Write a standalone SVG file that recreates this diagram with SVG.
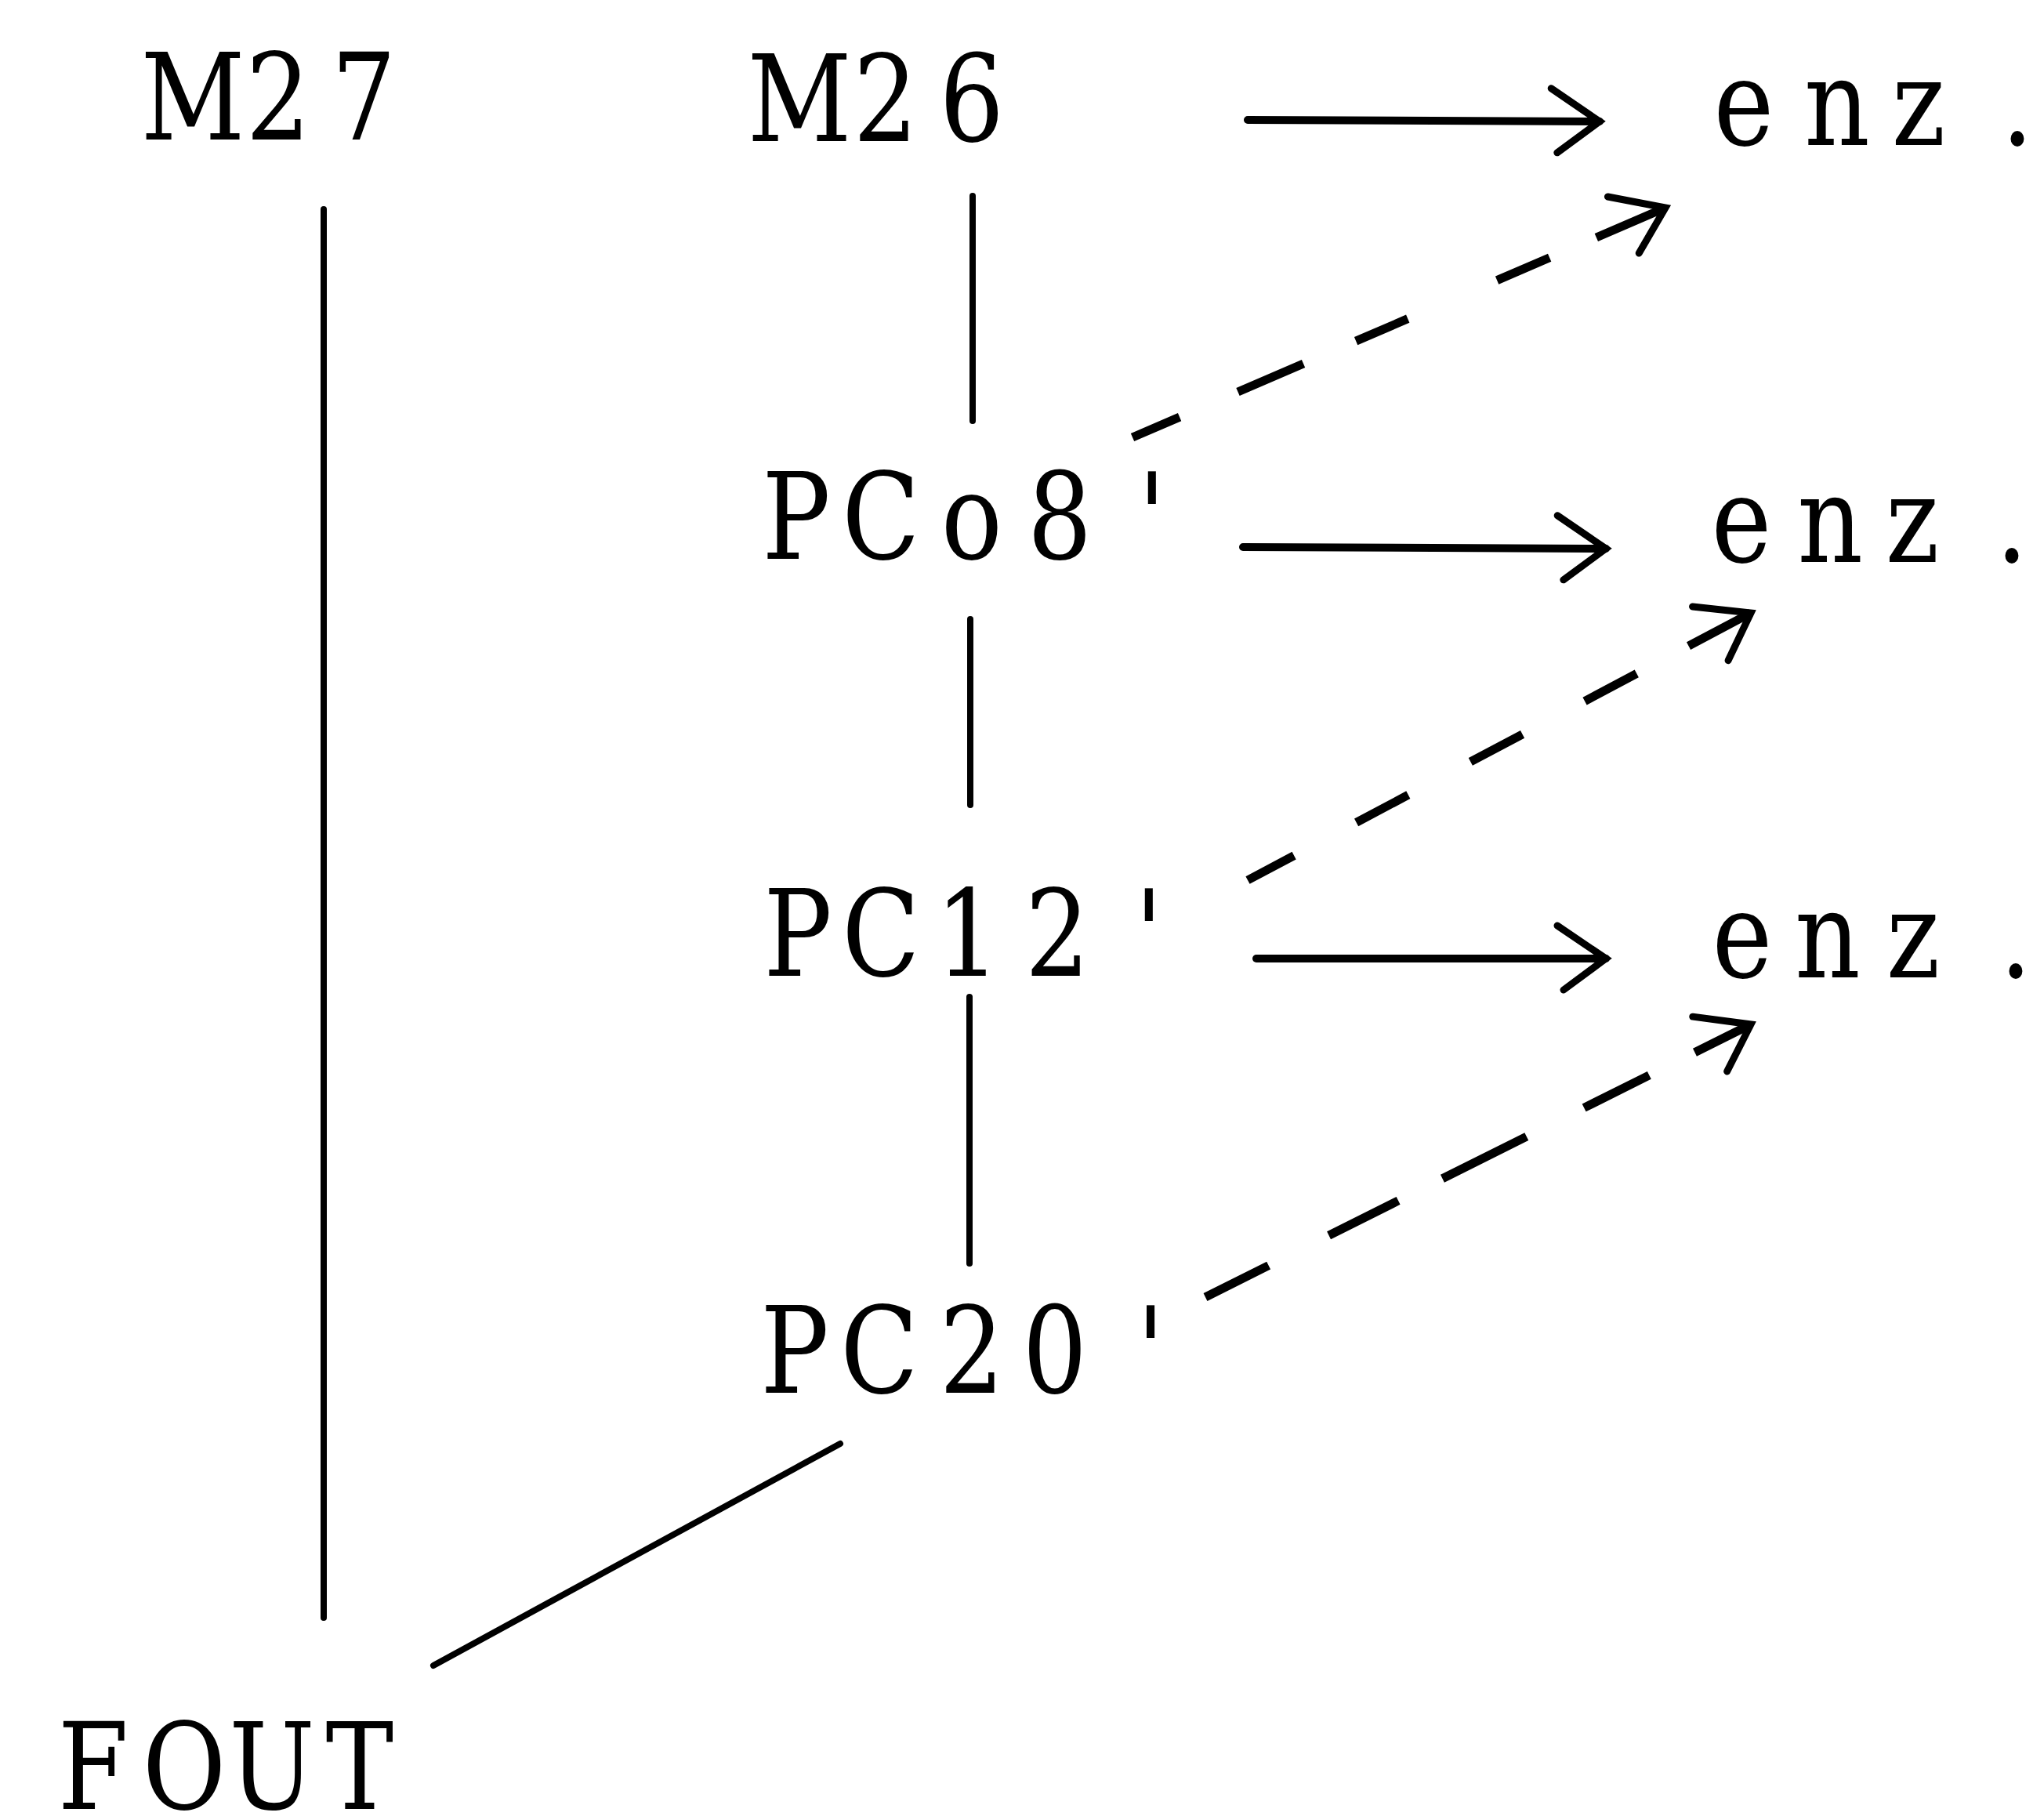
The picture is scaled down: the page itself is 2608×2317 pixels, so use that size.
<svg xmlns="http://www.w3.org/2000/svg" width="2608" height="2317" viewBox="0 0 2608 2317">
  <style>
    /* typewriter-like serif labels: each glyph is centred on its own cell, then the row is narrowed */
    .lbl { font-family: "DejaVu Serif", "Liberation Serif", serif; font-size: 153px; fill: #000; text-anchor: middle; }
    .link { fill: none; stroke: #000; stroke-width: 8; stroke-linecap: round; }
    .arrow { fill: none; stroke: #000; stroke-width: 10; stroke-linecap: round; marker-end: url(#head); }
    .dash { fill: none; stroke: #000; stroke-width: 11; stroke-linecap: butt; marker-start: url(#head); }
  </style>
  <defs>
    <marker id="head" markerUnits="userSpaceOnUse" orient="auto-start-reverse" markerWidth="140" markerHeight="140" refX="0" refY="0" viewBox="-70 -70 140 140" overflow="visible">
      <path d="M-62,-42 L0,0 L-54,40" fill="none" stroke="#000" stroke-width="9" stroke-linecap="round" stroke-linejoin="miter"/>
    </marker>
  </defs>
  <rect width="2608" height="2317" fill="#fff"/>

  <!-- nodes (x values are in the narrowed 0.85 space) -->
  <g id="node-M27"><text class="lbl" transform="scale(0.85,1)" x="289.4 417.6 545.9" y="178">M27</text></g>
  <g id="node-M26"><text class="lbl" transform="scale(0.85,1)" x="1200 1329.4 1458.8" y="180">M26</text></g>
  <g id="node-PCo8"><text class="lbl" transform="scale(0.85,1)" x="1195.3 1322.4 1458.8 1590.6 1729.4" y="713">PCo8'</text></g>
  <g id="node-PC12"><text class="lbl" transform="scale(0.85,1)" x="1197.6 1322.4 1452.9 1587.1 1724.7" y="1245">PC12'</text></g>
  <g id="node-PC20"><text class="lbl" transform="scale(0.85,1)" x="1192.9 1320 1458.8 1583.5 1727.1" y="1777">PC20'</text></g>
  <g id="node-FOUT"><text class="lbl" transform="scale(0.85,1)" x="140 276.5 408.2 540" y="2308">FOUT</text></g>
  <g id="node-enz1"><text class="lbl" transform="scale(0.85,1)" x="2617.6 2757.6 2880 3028.2" y="185">enz.</text></g>
  <g id="node-enz2"><text class="lbl" transform="scale(0.85,1)" x="2614.1 2747.1 2870.6 3020" y="717">enz.</text></g>
  <g id="node-enz3"><text class="lbl" transform="scale(0.85,1)" x="2615.3 2743.5 2871.8 3025.9" y="1247">enz.</text></g>

  <!-- connectors -->
  <g id="connectors">
    <line class="link" x1="413" y1="267" x2="413" y2="2064"/>
    <line class="link" x1="1241" y1="250" x2="1241" y2="537"/>
    <line class="link" x1="1238" y1="790" x2="1238" y2="1027"/>
    <line class="link" x1="1237" y1="1272" x2="1237" y2="1612"/>
    <line class="link" x1="553" y1="2125" x2="1072" y2="1842"/>

    <line class="arrow" x1="1592" y1="153" x2="2041" y2="155"/>
    <line class="arrow" x1="1586" y1="698" x2="2049" y2="700"/>
    <line class="arrow" x1="1603" y1="1223" x2="2049" y2="1223"/>

    <!-- dashed links drawn from the arrow tip back to the source -->
    <path class="dash" d="M2125,265 L1445,558" stroke-dasharray="96 65 73 124 72 73 91 81 70"/>
    <path class="dash" d="M2234,782 L1592,1123" stroke-dasharray="90 75 75 90 75 90 75 90 75 90"/>
    <path class="dash" d="M2234,1307 L1538,1655" stroke-dasharray="80 65 93 82 120 63 99 86 95"/>
  </g>
</svg>
